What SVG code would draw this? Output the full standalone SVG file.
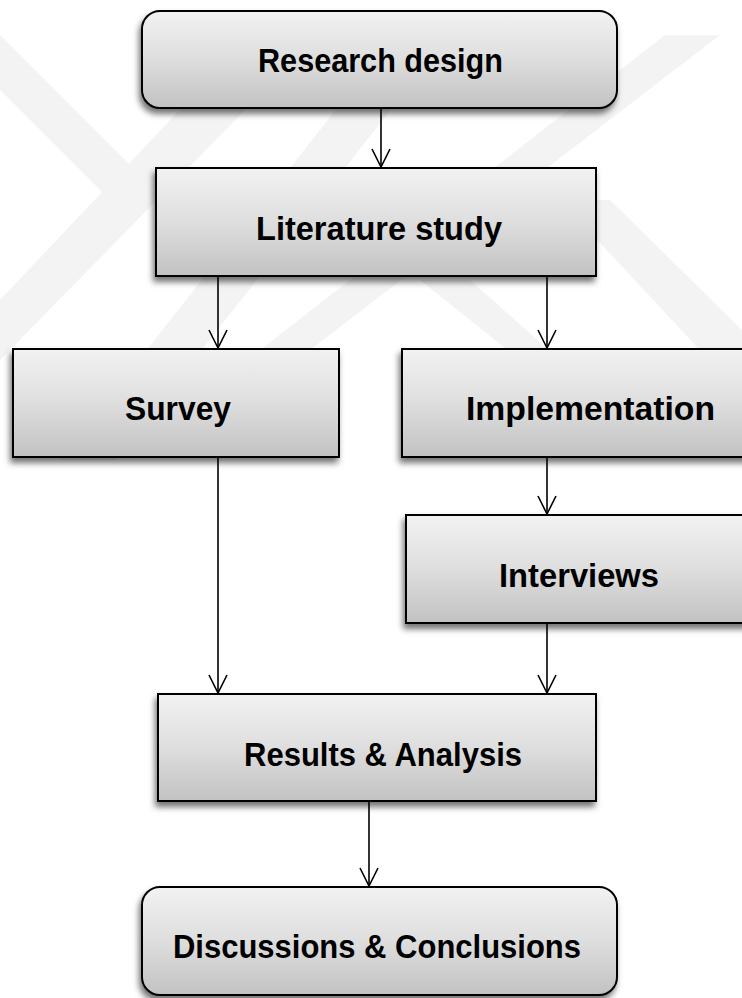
<svg xmlns="http://www.w3.org/2000/svg" width="742" height="998" viewBox="0 0 742 998">
  <defs>
    <linearGradient id="boxFill" x1="0" y1="0" x2="0" y2="1">
      <stop offset="0" stop-color="#f2f2f2"/>
      <stop offset="0.5" stop-color="#dedede"/>
      <stop offset="1" stop-color="#c2c2c2"/>
    </linearGradient>
    <filter id="shadow" x="-10%" y="-10%" width="120%" height="130%">
      <feDropShadow dx="-2" dy="5" stdDeviation="3" flood-color="#000" flood-opacity="0.55"/>
    </filter>
    <marker id="arrow" markerUnits="userSpaceOnUse" markerWidth="20" markerHeight="20" refX="0" refY="0" orient="auto" overflow="visible">
      <path d="M-18,-9 L0,0 L-18,9" fill="none" stroke="#000" stroke-width="1.6"/>
    </marker>
    <style>
      .box { fill: url(#boxFill); stroke: #000; stroke-width: 2; filter: url(#shadow); }
      .label { font-family: "Liberation Sans", Arial, sans-serif; font-weight: bold; font-size: 34px; fill: #000; }
      .conn { stroke: #000; stroke-width: 1.6; fill: none; marker-end: url(#arrow); }
      .wm { fill: #f3f3f3; }
    </style>
  </defs>

  <rect x="0" y="0" width="742" height="998" fill="#ffffff"/>

  <g id="watermark">
    <polygon class="wm" points="0,35 160,195 0,355 0,300 105,195 0,90"/>
    <polygon class="wm" points="0,300 0,360 260,95 225,62"/>
    <polygon class="wm" points="60,460 115,460 430,60 375,60"/>
    <polygon class="wm" points="260,350 310,350 720,35 665,35"/>
    <polygon class="wm" points="560,200 610,200 742,330 742,395"/>
    <polygon class="wm" points="420,280 470,280 560,360 520,360"/>
  </g>

  <g id="connectors">
    <line class="conn" x1="381" y1="108" x2="381" y2="167"/>
    <line class="conn" x1="218" y1="276" x2="218" y2="348"/>
    <line class="conn" x1="547" y1="276" x2="547" y2="348"/>
    <line class="conn" x1="547" y1="457" x2="547" y2="514"/>
    <line class="conn" x1="218" y1="457" x2="218" y2="693"/>
    <line class="conn" x1="547" y1="623" x2="547" y2="693"/>
    <line class="conn" x1="369" y1="801" x2="369" y2="886"/>
  </g>

  <g id="research-design">
    <rect class="box" x="142" y="11" width="475" height="97" rx="18" ry="18"/>
    <text class="label" x="258" y="72" textLength="245" lengthAdjust="spacingAndGlyphs">Research design</text>
  </g>

  <g id="literature-study">
    <rect class="box" x="156" y="168" width="440" height="108"/>
    <text class="label" x="256" y="240" textLength="246" lengthAdjust="spacingAndGlyphs">Literature study</text>
  </g>

  <g id="survey">
    <rect class="box" x="13" y="349" width="326" height="108"/>
    <text class="label" x="125" y="420" textLength="106" lengthAdjust="spacingAndGlyphs">Survey</text>
  </g>

  <g id="implementation">
    <rect class="box" x="402" y="349" width="360" height="108"/>
    <text class="label" x="466" y="420" textLength="249" lengthAdjust="spacingAndGlyphs">Implementation</text>
  </g>

  <g id="interviews">
    <rect class="box" x="406" y="515" width="360" height="108"/>
    <text class="label" x="499" y="587" textLength="160" lengthAdjust="spacingAndGlyphs">Interviews</text>
  </g>

  <g id="results-analysis">
    <rect class="box" x="158" y="694" width="438" height="107"/>
    <text class="label" x="244" y="766" textLength="278" lengthAdjust="spacingAndGlyphs">Results &amp; Analysis</text>
  </g>

  <g id="discussions-conclusions">
    <rect class="box" x="142" y="887" width="475" height="108" rx="18" ry="18"/>
    <text class="label" x="173" y="958" textLength="408" lengthAdjust="spacingAndGlyphs">Discussions &amp; Conclusions</text>
  </g>
</svg>
